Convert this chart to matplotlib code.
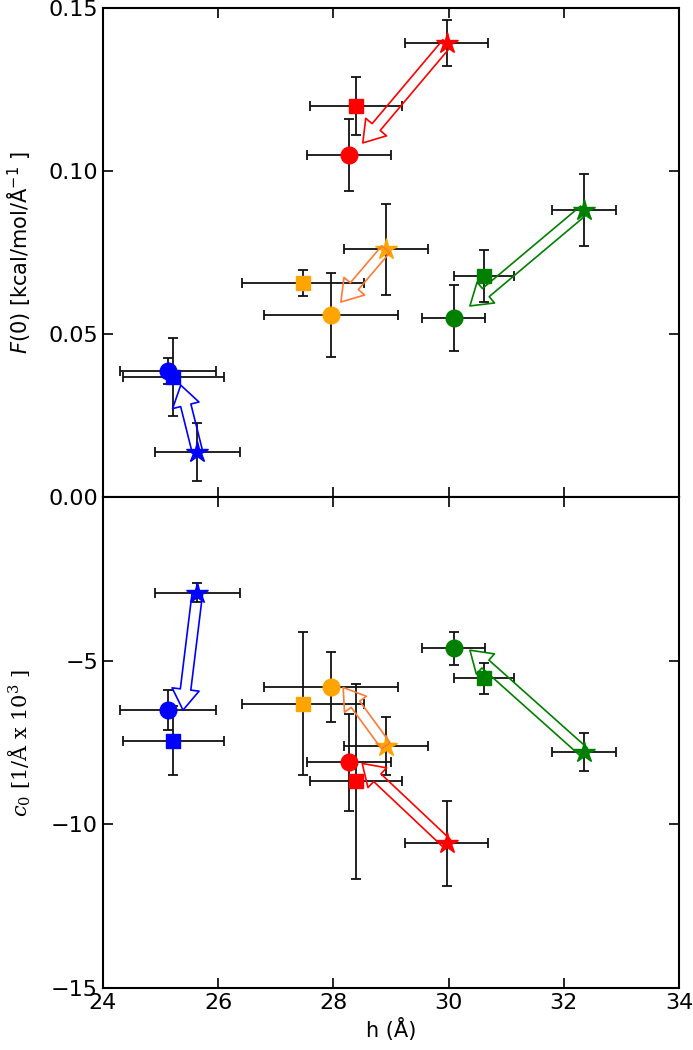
import matplotlib.pyplot as plt
import numpy as np

# one row per system: [circle, square, star]
colors = ["blue", "orange", "red", "green"]
arrow_colors = ["blue", "#ff7a33", "red", "green"]
markers = ["o", "s", "*"]

h = [[25.13, 25.22, 25.64],
     [27.96, 27.47, 28.91],
     [28.27, 28.39, 29.97],
     [30.09, 30.61, 32.35]]
h_err = [[0.84, 0.88, 0.74],
         [1.16, 1.06, 0.73],
         [0.73, 0.80, 0.72],
         [0.55, 0.52, 0.55]]

F0 = [[0.0386, 0.0368, 0.0138],
      [0.0558, 0.0656, 0.0760],
      [0.1049, 0.1199, 0.1392],
      [0.0549, 0.0678, 0.0880]]
F0_err = [[0.004, 0.012, 0.009],
          [0.013, 0.004, 0.014],
          [0.011, 0.009, 0.007],
          [0.010, 0.008, 0.011]]

c0 = [[-6.51, -7.44, -2.92],
      [-5.80, -6.31, -7.60],
      [-8.11, -8.69, -10.58],
      [-4.62, -5.54, -7.79]]
c0_err = [[0.60, 1.05, 0.30],
          [1.07, 2.18, 0.88],
          [1.48, 2.98, 1.30],
          [0.50, 0.48, 0.58]]

# arrow tips (arrows start at the star)
F0_tip_h = [25.35, 28.13, 28.51, 30.37]
F0_tip = [0.0343, 0.0598, 0.1086, 0.0586]
c0_tip_h = [25.39, 28.17, 28.50, 30.37]
c0_tip = [-6.51, -5.82, -8.14, -4.68]

plt.rcParams["font.size"] = 16

fig = plt.figure(figsize=(6.93, 10.5), dpi=100)
ax1 = fig.add_axes([0.1486, 0.5267, 0.8312, 0.4657])
ax2 = fig.add_axes([0.1486, 0.0590, 0.8312, 0.4677], sharex=ax1)

msizes = {"o": 12, "s": 10.5, "*": 16}


def draw_panel(ax, yvals, yerrs, tip_h, tip_y):
    for i, col in enumerate(colors):
        for j, m in enumerate(markers):
            ax.errorbar(h[i][j], yvals[i][j], xerr=h_err[i][j], yerr=yerrs[i][j],
                        fmt=m, color=col, mec=col, ms=msizes[m],
                        ecolor="#111111", elinewidth=1.3, capsize=3.5,
                        capthick=1.3, zorder=3)
        ax.annotate("", xy=(tip_h[i], tip_y[i]), xytext=(h[i][2], yvals[i][2]),
                    arrowprops=dict(
                        arrowstyle="simple,head_length=0.65,head_width=0.85,tail_width=0.33",
                        fc="none", ec=arrow_colors[i], lw=1.2,
                        shrinkA=0, shrinkB=0, mutation_scale=23),
                    zorder=4)
    ax.tick_params(direction="in", top=True, right=True, length=7, width=1.2)
    for s in ax.spines.values():
        s.set_linewidth(1.5)


draw_panel(ax1, F0, F0_err, F0_tip_h, F0_tip)
draw_panel(ax2, c0, c0_err, c0_tip_h, c0_tip)

ax1.set_xlim(24, 34)
ax1.set_ylim(0, 0.15)
ax1.set_yticks([0.0, 0.05, 0.10, 0.15])
ax1.set_yticklabels(["0.00", "0.05", "0.10", "0.15"])
ax1.tick_params(labelbottom=False)
ax1.set_ylabel(r"$F(0)$ [kcal/mol/Å$^{-1}$ ]", fontsize=15)
ax1.yaxis.set_label_coords(-0.122, 0.5)

ax2.set_ylim(-15, 0)
ax2.set_yticks([-15, -10, -5])
ax2.set_xticks(np.arange(24, 35, 2))
ax2.set_ylabel(r"$c_0\ [1/\mathrm{\AA}\ \mathrm{x}\ 10^3\ ]$", fontsize=15,
               math_fontfamily="dejavuserif")
ax2.yaxis.set_label_coords(-0.122, 0.5)
ax2.set_xlabel("h (Å)", fontsize=15)

fig.savefig("out.png", dpi=100)
